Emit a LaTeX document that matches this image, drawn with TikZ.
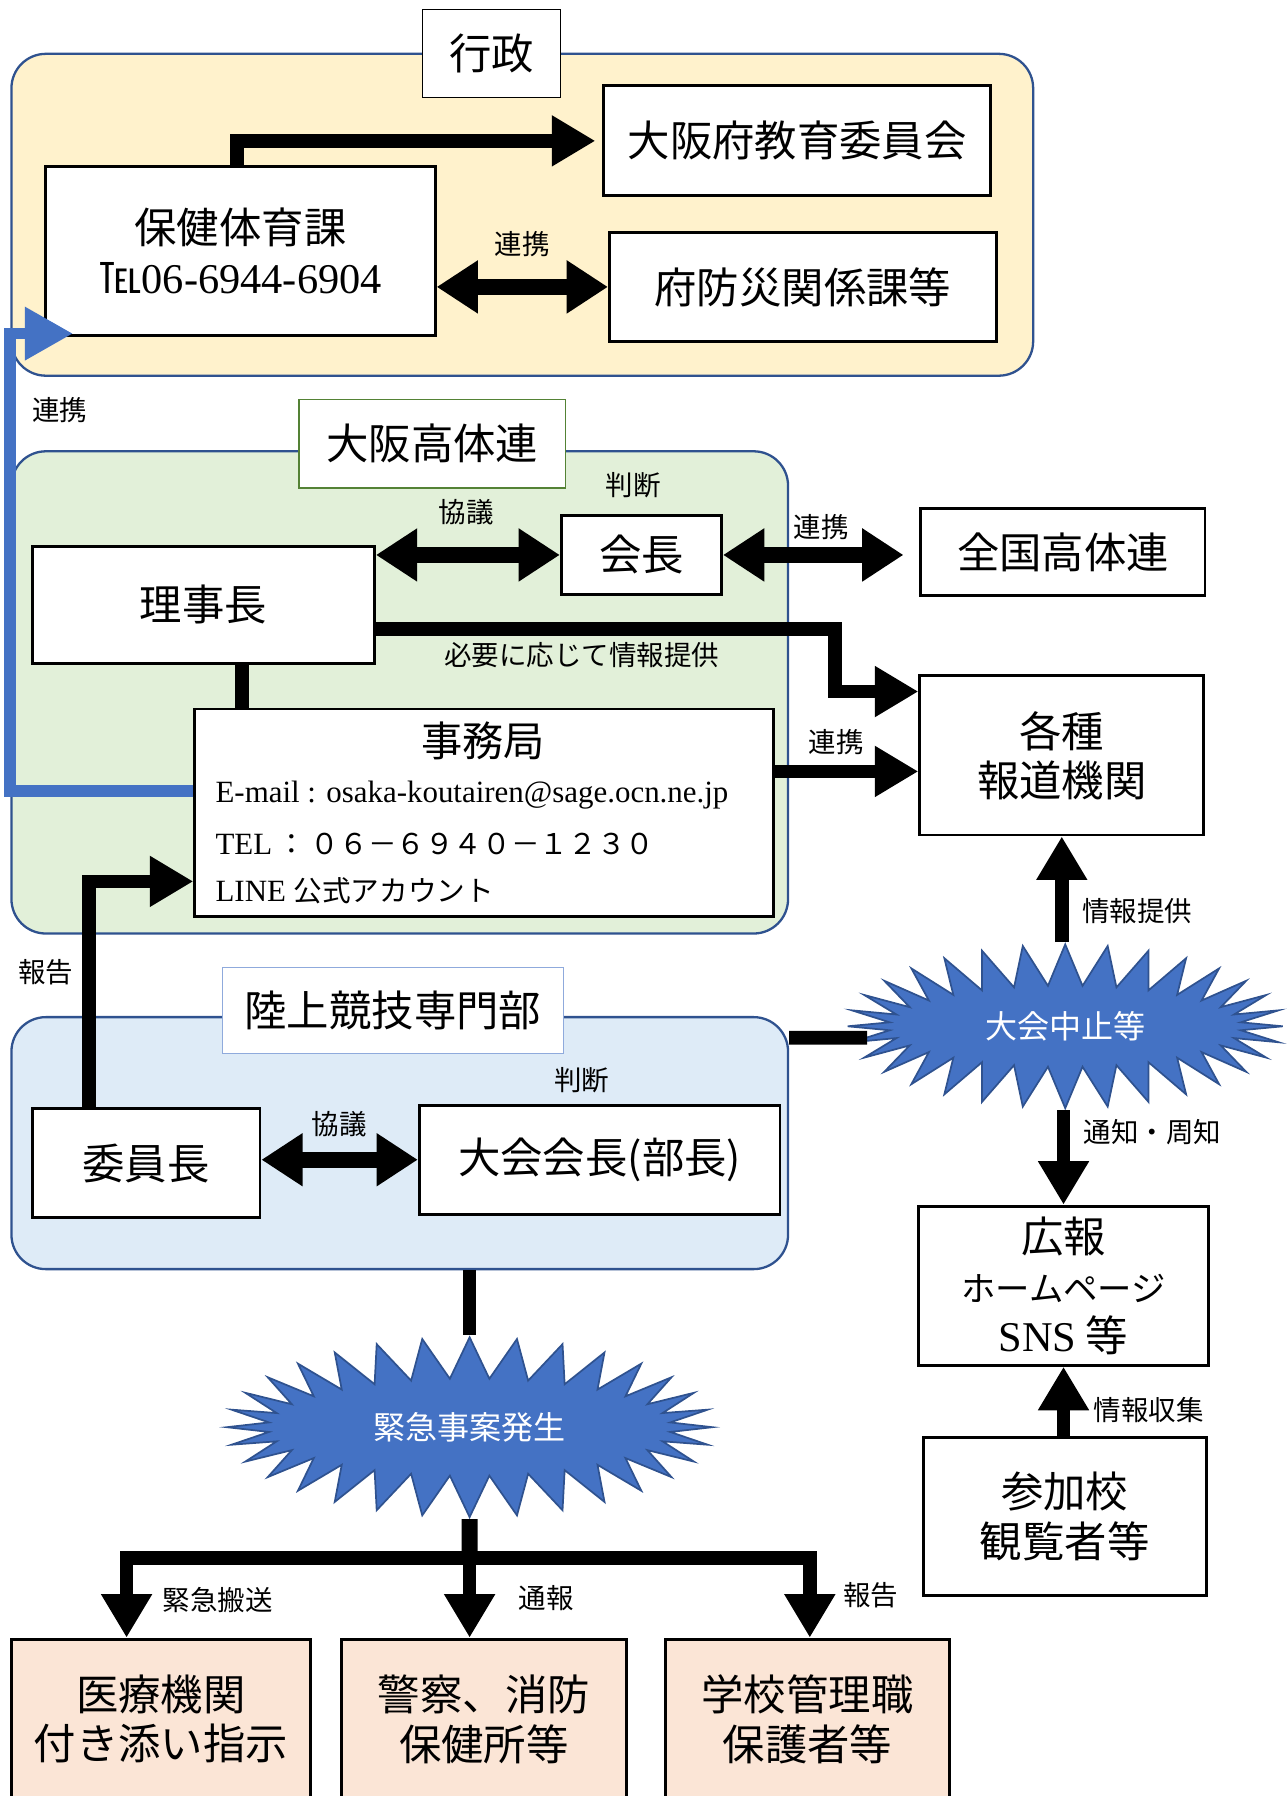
\documentclass[tikz,border=0pt]{standalone}
\usepackage{fontspec}
\setmainfont{Liberation Serif}
\newfontfamily\jp{Noto Sans CJK JP}
\usepackage{tikz}
\usetikzlibrary{calc,positioning,arrows.meta,shapes.symbols}
\definecolor{grpblue}{HTML}{2F528F}
\definecolor{burstblue}{HTML}{4472C4}
\definecolor{gyoseifill}{HTML}{FFF2CC}
\definecolor{kotaifill}{HTML}{E2F0D9}
\definecolor{rikujofill}{HTML}{DEEBF7}
\definecolor{destfill}{HTML}{FBE5D6}
\definecolor{kotaiedge}{HTML}{548235}
\definecolor{rikujoedge}{HTML}{8FAADC}

\begin{document}
\begin{tikzpicture}[x=1pt,y=1pt,
		box/.style={draw,line width=2.5pt,fill=white,align=center,inner sep=0pt,font=\jp\fontsize{37}{43}\selectfont},
		grp/.style={draw=grpblue,line width=2pt,rounded corners=30pt,inner sep=0pt},
		title/.style={draw,line width=1pt,fill=white,inner sep=0pt,font=\jp\fontsize{37}{43}\selectfont},
		lbl/.style={inner sep=0pt,font=\jp\fontsize{24}{28}\selectfont},
		info/.style={anchor=west,inner sep=0pt,font=\fontsize{27}{30}\selectfont},
		flow/.style={line width=12pt,-{Triangle[width=42pt,length=38pt]}},
		both/.style={line width=14pt,{Triangle[width=44pt,length=36pt]}-{Triangle[width=44pt,length=36pt]}},
		link/.style={draw=burstblue,line width=10pt,-{Triangle[width=44pt,length=42pt]}},
		burst/.style={starburst,random starburst=0,starburst points=32,starburst point height=36pt,fill=burstblue,draw=grpblue,line width=1.5pt,text=white,font=\jp\fontsize{28}{32}\selectfont,inner sep=0pt},
	]
		\useasboundingbox (0,0) rectangle (1123,-1568);

		\node[grp,fill=gyoseifill,minimum width=892pt,minimum height=281pt] (gyosei) at (456,-187.5) {};
		\node[grp,fill=kotaifill,minimum width=678pt,minimum height=421pt] (kotai) at (349,-604.5) {};
		\node[grp,fill=rikujofill,minimum width=678pt,minimum height=220pt] (rikujo) at (349,-998) {};
		\node[title,minimum width=120pt,minimum height=77pt] (gyoseiT) at (429,-46.5) {行政};
		\node[title,draw=kotaiedge,minimum width=233pt,minimum height=77pt] (kotaiT) at (377.5,-387.5) {大阪高体連};
		\node[title,draw=rikujoedge,minimum width=298pt,minimum height=75pt] (rikujoT) at (343,-882.5) {陸上競技専門部};

		\node[box,minimum width=338pt,minimum height=96pt] (kyoiku) at (696,-123) {大阪府教育委員会};
		\node[box,minimum width=340pt,minimum height=148pt] (hoken) at (210,-219) {保健体育課\\℡{\rmfamily 06-6944-6904}};
		\node[box,minimum width=338pt,minimum height=95pt] (bosai) at (701,-250.5) {府防災関係課等};

		\node[box,minimum width=299pt,minimum height=102pt] (rijicho) at (177.5,-528) {理事長};
		\node[box,minimum width=140pt,minimum height=69pt] (kaicho) at (560,-484.5) {会長};
		\node[box,minimum width=248pt,minimum height=76pt] (zenkoku) at (928,-482) {全国高体連};
		\node[box,minimum width=505pt,minimum height=181pt] (jimu) at (422.5,-709.5) {};
		\node[inner sep=0pt,font=\jp\fontsize{36}{40}\selectfont] (jimuT) at (422,-647) {事務局};
		\node[info] (jimuMail) at (188,-694) {E-mail : osaka-koutairen@sage.ocn.ne.jp};
		\node[info] (jimuTel) at (188,-737) {TEL\,{\jp\fontsize{25}{30}\selectfont ：\,０６－６９４０－１２３０}};
		\node[info] (jimuLine) at (188,-778) {LINE {\jp\fontsize{25}{30}\selectfont 公式アカウント}};
		\node[box,minimum width=248pt,minimum height=139pt] (hodo) at (927,-659.5) {各種\\報道機関};

		\node[box,minimum width=199pt,minimum height=95pt] (iincho) at (127.5,-1015.5) {委員長};
		\node[box,minimum width=315pt,minimum height=95pt] (taikai) at (523.5,-1012.5) {大会会長(部長)};
		\node[box,minimum width=253pt,minimum height=139pt] (koho) at (928.5,-1122.5) {広報\\{\fontsize{30}{41}\selectfont ホームページ}\\{\rmfamily SNS} 等};
		\node[box,minimum width=247pt,minimum height=138pt] (sanka) at (929.5,-1324) {参加校\\観覧者等};

		\node[burst,minimum width=380pt,minimum height=143pt] (stop) at (930,-896) {大会中止等};
		\node[burst,minimum width=424pt,minimum height=157pt] (kinkyu) at (410,-1246) {緊急事案発生};
		\coordinate (bar) at (410,-1360);

		\node[box,fill=destfill,minimum width=261pt,minimum height=140pt] (iryo) at (140.5,-1501) {医療機関\\付き添い指示};
		\node[box,fill=destfill,minimum width=249pt,minimum height=140pt] (keisatsu) at (422.5,-1501) {警察、消防\\保健所等};
		\node[box,fill=destfill,minimum width=248pt,minimum height=140pt] (gakko) at (705,-1501) {学校管理職\\保護者等};

		\draw[flow] ([xshift=-3pt]hoken.north) |- ([xshift=-6pt]kyoiku.west);
		\draw[both] (hoken.east |- bosai.west) -- (bosai.west);
		\draw[link] ([yshift=19pt]jimu.west) -| ([xshift=-30pt,yshift=3pt]hoken.south west) -- ([xshift=25pt,yshift=3pt]hoken.south west);
		\draw[both] (rijicho.east |- kaicho.west) -- (kaicho.west);
		\draw[both] (kaicho.east) -- ([xshift=-14pt]kaicho.east -| zenkoku.west);
		\draw[flow] ([yshift=-21pt]rijicho.east) -| ([xshift=-73pt,yshift=-15pt]hodo.north west) -- ([yshift=-15pt]hodo.north west);
		\draw[line width=12pt] ([xshift=34pt]rijicho.south) -- ([xshift=34pt]rijicho.south |- jimu.north);
		\draw[flow] ([yshift=36pt]jimu.east) -- ([yshift=36pt]jimu.east -| hodo.west);
		\draw[flow] ([xshift=-50pt]iincho.north) |- ([yshift=-60pt]jimu.west);
		\draw[both] (iincho.east |- taikai.west) -- (taikai.west);
		\draw[line width=12pt] ([yshift=92pt]rikujo.east) -- ([xshift=25pt,yshift=-10pt]stop.west);
		\draw[flow] (hodo.south |- stop.north) -- (hodo.south);
		\draw[flow] (koho.north |- stop.south) -- (koho.north);
		\draw[flow] (koho.south |- sanka.north) -- (koho.south);
		\draw[line width=12pt] (kinkyu.north |- rikujo.south) -- (kinkyu.north);
		\draw[line width=14pt] (kinkyu.south) -- (bar);
		\draw[flow] (bar) -| ([xshift=-30pt]iryo.north);
		\draw[flow] (bar) -| ([xshift=2pt]gakko.north);
		\draw[flow] (bar) -- (bar |- keisatsu.north);

		\node[lbl] (lblBosai) at (456,-213) {連携};
		\node[lbl] (lblBlue) at (52,-358) {連携};
		\node[lbl] (lblHandan) at (553,-424) {判断};
		\node[lbl] (lblKyogi) at (407,-447) {協議};
		\node[lbl] (lblZenkoku) at (717,-460) {連携};
		\node[lbl] (lblHitsuyo) at (508,-572) {必要に応じて情報提供};
		\node[lbl] (lblHodo) at (730,-648) {連携};
		\node[lbl] (lblHokoku) at (40,-849) {報告};
		\node[lbl] (lblJoho) at (993,-795) {情報提供};
		\node[lbl] (lblHandanB) at (508,-943) {判断};
		\node[lbl] (lblKyogiB) at (296,-981) {協議};
		\node[lbl] (lblTsuchi) at (1006,-988) {通知・周知};
		\node[lbl] (lblShushu) at (1003,-1231) {情報収集};
		\node[lbl] (lblHanso) at (190,-1397) {緊急搬送};
		\node[lbl] (lblTsuho) at (477,-1395) {通報};
		\node[lbl] (lblHokokuB) at (760,-1393) {報告};
	\end{tikzpicture}
\end{document}
